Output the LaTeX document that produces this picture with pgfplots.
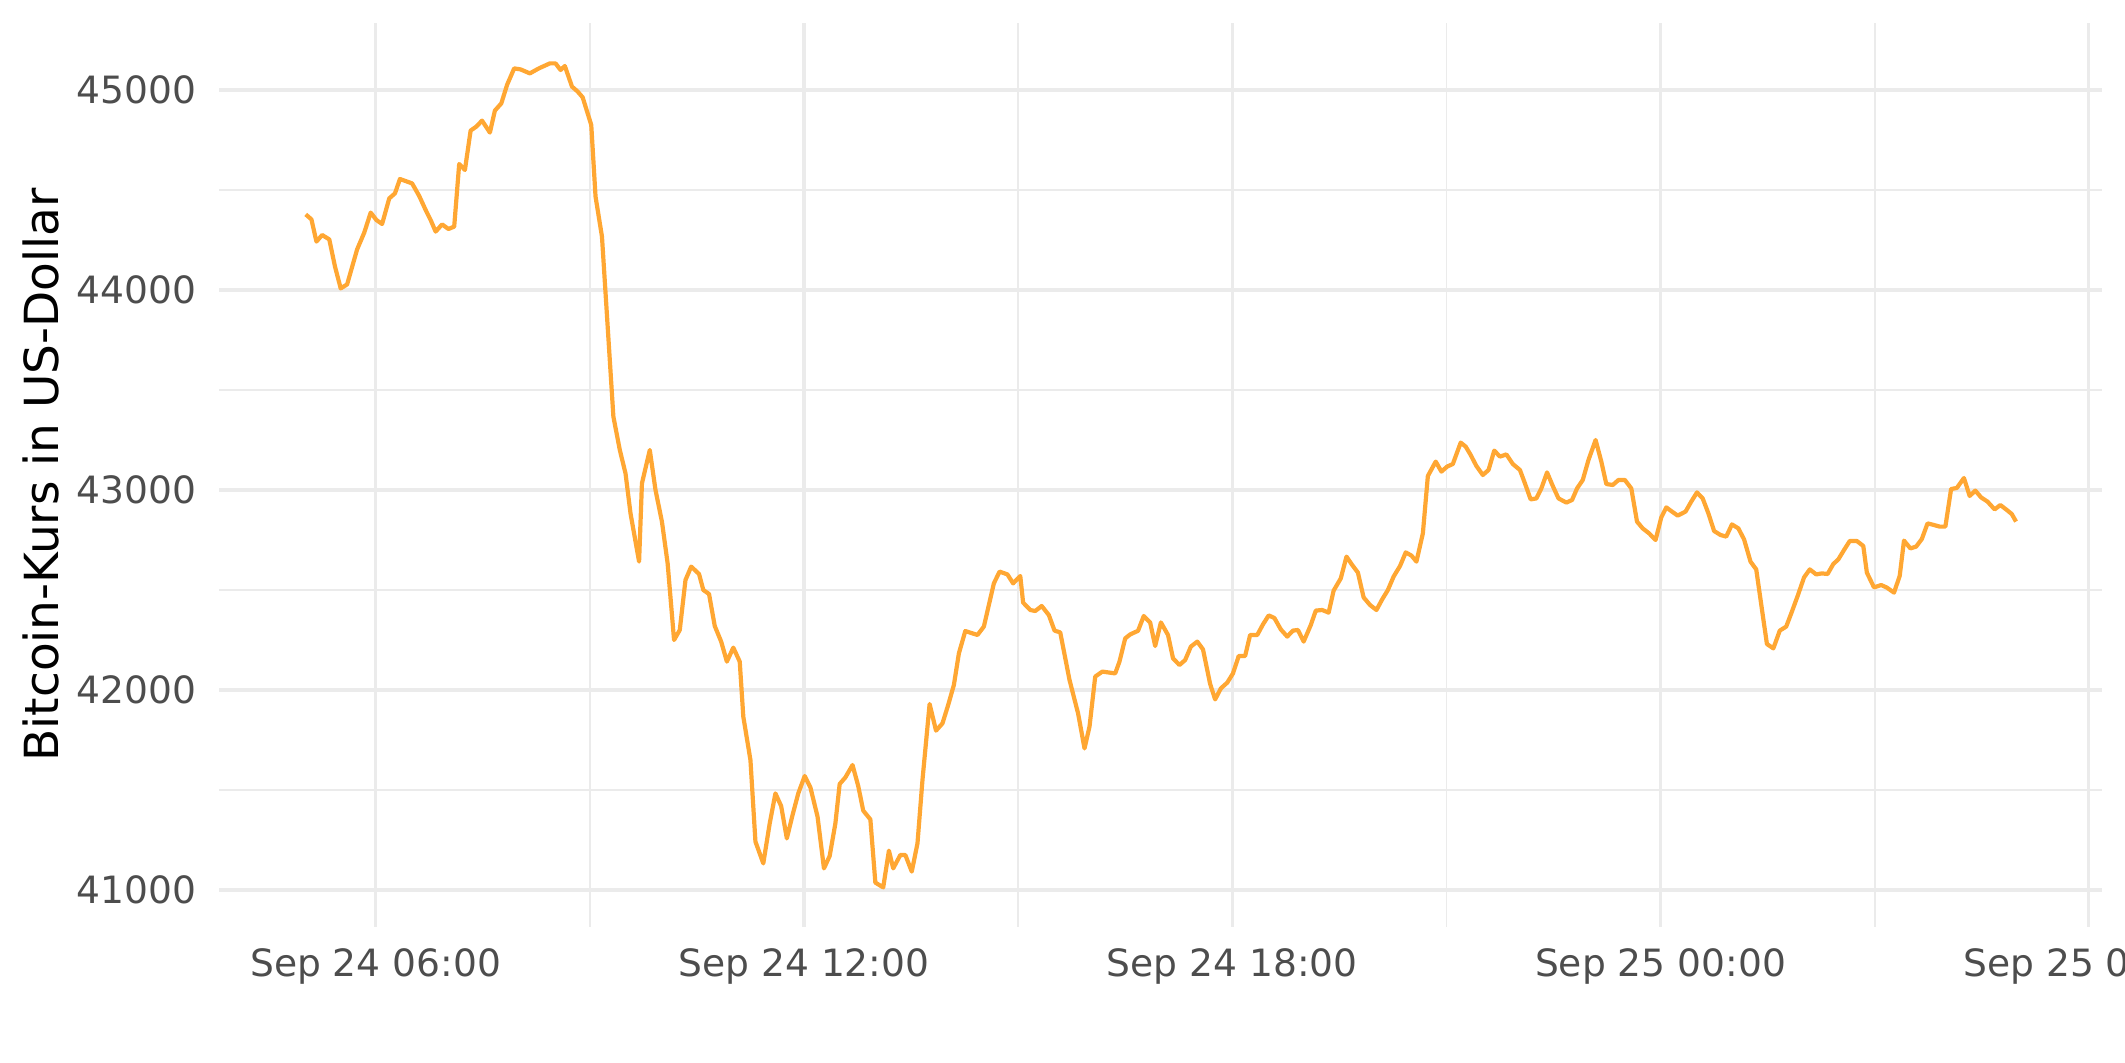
\documentclass[border=0pt]{standalone}
\usepackage{pgfplots}
\pgfplotsset{compat=1.18}
\usepackage{fontspec}
\setmainfont{DejaVu Sans}
\definecolor{btcorange}{HTML}{FFA733}
\definecolor{gridgray}{HTML}{EBEBEB}
\definecolor{tickgray}{HTML}{4D4D4D}
\pgfplotstableread{
h v
5.02 44378
5.10 44353
5.17 44242
5.25 44275
5.35 44253
5.43 44117
5.51 44008
5.60 44028
5.74 44203
5.84 44287
5.93 44387
6.01 44350
6.09 44330
6.19 44458
6.27 44483
6.34 44555
6.51 44533
6.61 44470
6.70 44400
6.77 44350
6.84 44292
6.93 44328
7.02 44305
7.10 44317
7.17 44630
7.25 44600
7.33 44797
7.41 44817
7.49 44847
7.60 44787
7.67 44897
7.76 44933
7.84 45025
7.94 45108
8.03 45103
8.16 45083
8.26 45103
8.31 45112
8.44 45133
8.52 45133
8.59 45100
8.65 45120
8.75 45017
8.83 44992
8.90 44963
9.02 44825
9.08 44467
9.17 44267
9.25 43817
9.33 43367
9.42 43200
9.50 43083
9.57 42883
9.69 42642
9.73 43033
9.84 43200
9.92 43000
10.01 42842
10.09 42633
10.18 42250
10.26 42300
10.34 42550
10.42 42617
10.53 42580
10.59 42500
10.67 42480
10.75 42320
10.84 42242
10.92 42142
11.01 42212
11.10 42142
11.15 41867
11.25 41650
11.32 41242
11.43 41133
11.52 41333
11.60 41483
11.68 41420
11.76 41258
11.84 41375
11.92 41483
12.01 41570
12.09 41513
12.19 41367
12.28 41108
12.36 41170
12.44 41333
12.50 41530
12.58 41563
12.68 41625
12.76 41520
12.83 41397
12.93 41353
13.00 41037
13.11 41013
13.19 41197
13.25 41108
13.35 41175
13.42 41175
13.51 41092
13.59 41233
13.66 41550
13.76 41930
13.85 41797
13.94 41833
14.02 41925
14.10 42025
14.17 42183
14.26 42295
14.43 42275
14.52 42317
14.66 42533
14.74 42592
14.85 42578
14.93 42533
15.03 42570
15.07 42437
15.17 42400
15.24 42395
15.33 42420
15.43 42375
15.51 42297
15.59 42288
15.72 42050
15.84 41883
15.93 41708
16.00 41817
16.08 42067
16.18 42092
16.36 42083
16.42 42142
16.50 42258
16.57 42278
16.68 42296
16.76 42370
16.85 42337
16.92 42220
17.00 42338
17.10 42275
17.17 42158
17.26 42125
17.34 42150
17.42 42217
17.51 42242
17.59 42203
17.69 42030
17.76 41953
17.84 42008
17.93 42037
18.01 42083
18.09 42170
18.18 42170
18.25 42275
18.35 42275
18.43 42328
18.51 42373
18.59 42360
18.68 42303
18.77 42267
18.85 42297
18.92 42300
19.00 42242
19.10 42325
19.17 42397
19.26 42400
19.35 42387
19.42 42497
19.52 42558
19.60 42667
19.68 42625
19.76 42587
19.84 42463
19.93 42425
20.02 42400
20.10 42453
20.18 42500
20.26 42567
20.35 42620
20.43 42688
20.51 42672
20.58 42642
20.67 42783
20.74 43070
20.85 43142
20.93 43092
21.01 43117
21.09 43130
21.20 43237
21.27 43217
21.34 43175
21.42 43120
21.51 43075
21.59 43100
21.67 43197
21.75 43167
21.84 43178
21.93 43130
22.03 43100
22.10 43033
22.18 42953
22.26 42958
22.33 43008
22.41 43088
22.49 43020
22.57 42958
22.68 42937
22.76 42950
22.83 43008
22.91 43050
22.99 43150
23.09 43250
23.17 43142
23.24 43030
23.33 43025
23.41 43050
23.50 43050
23.59 43008
23.67 42842
23.75 42808
23.84 42783
23.93 42750
24.01 42863
24.08 42913
24.16 42892
24.24 42872
24.35 42892
24.43 42942
24.51 42988
24.59 42958
24.67 42883
24.75 42795
24.84 42775
24.92 42767
25.00 42828
25.09 42808
25.17 42753
25.26 42642
25.34 42603
25.42 42403
25.49 42230
25.58 42208
25.67 42297
25.76 42317
25.84 42392
25.92 42470
26.01 42563
26.09 42603
26.18 42578
26.26 42583
26.34 42580
26.42 42630
26.49 42653
26.57 42700
26.65 42745
26.75 42745
26.84 42720
26.89 42587
26.99 42513
27.09 42525
27.17 42512
27.27 42487
27.35 42570
27.41 42747
27.50 42708
27.58 42717
27.66 42755
27.74 42833
27.83 42825
27.91 42817
27.99 42817
28.07 43005
28.15 43010
28.25 43060
28.33 42970
28.41 42997
28.49 42963
28.58 42942
28.68 42903
28.76 42925
28.84 42903
28.92 42880
28.98 42842
}\btcdata
\begin{document}
\begin{tikzpicture}
\useasboundingbox (-109.5pt,-67.5pt) rectangle (953pt,463.5pt);
\begin{axis}[
  at={(0,0)}, anchor=south west,
  scale only axis,
  width=941.35pt, height=452.15pt,
  xmin=3.805, xmax=30.18,
  ymin=40815, ymax=45336.5,
  xtick={6,12,18,24,30},
  xticklabels={Sep 24 06:00, Sep 24 12:00, Sep 24 18:00, Sep 25 00:00, Sep 25 06:00},
  minor xtick={9,15,21,27},
  ytick={41000,42000,43000,44000,45000},
  minor ytick={41500,42500,43500,44500},
  scaled y ticks=false,
  scaled x ticks=false,
  grid=both,
  major grid style={color=gridgray, line width=1.6pt},
  minor grid style={color=gridgray, line width=0.9pt},
  axis line style={draw=none},
  tick style={draw=none},
  /pgf/number format/assume math mode=true,
  /pgf/number format/set thousands separator={},
  /pgf/number format/fixed,
  /pgf/number format/precision=0,
  tick label style={font=\fontsize{18.8}{22}\selectfont, text=tickgray},
  yticklabel style={anchor=east, inner sep=0pt, xshift=-11pt},
  xticklabel style={anchor=north, inner sep=0pt, yshift=-10.5pt},
  ylabel={Bitcoin-Kurs in US-Dollar},
  ylabel style={at={(axis description cs:-0.08536,0.5)}, anchor=base, inner sep=0pt, font=\fontsize{23.5}{28}\selectfont, text=black},
]
\addplot[color=btcorange, line width=2.1pt, line join=round, mark=none] table[x=h, y=v] {\btcdata};
\end{axis}
\end{tikzpicture}
\end{document}
